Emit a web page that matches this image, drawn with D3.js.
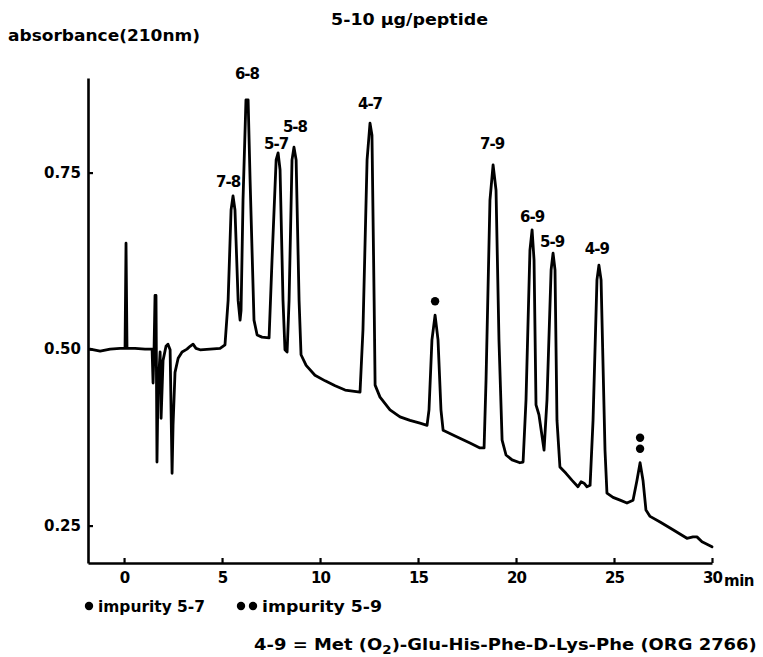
<!DOCTYPE html>
<html><head><meta charset="utf-8">
<script src="https://cdn.jsdelivr.net/npm/d3@7"></script>
<style>body{margin:0;background:#fff}</style>
</head><body>
<svg id="c" width="763" height="657"></svg>
<script>
// ---- data (retention time in min, absorbance at 210 nm) ----
const time = [-1.73,-1.22,-0.71,-0.20,0.05,0.10,0.15,0.56,1.07,1.43,1.48,1.53,1.58,1.63,1.68,1.73,1.84,1.89,1.99,2.14,2.24,2.35,2.45,2.50,2.60,2.76,2.96,3.21,3.37,3.52,3.67,3.88,4.39,4.90,5.15,5.31,5.46,5.56,5.66,5.82,5.92,5.97,6.07,6.22,6.33,6.43,6.63,6.79,7.04,7.40,7.55,7.76,7.86,7.96,8.11,8.21,8.32,8.42,8.57,8.67,8.78,8.93,9.03,9.29,9.74,10.26,10.77,11.28,12.04,12.19,12.40,12.55,12.65,12.76,12.81,13.06,13.57,14.08,14.59,15.10,15.46,15.56,15.71,15.87,16.02,16.17,16.28,16.89,17.65,18.16,18.37,18.47,18.67,18.83,18.98,19.13,19.29,19.49,19.80,20.20,20.36,20.51,20.71,20.82,20.92,21.02,21.17,21.43,21.58,21.79,21.89,21.99,22.09,22.24,22.55,22.86,23.16,23.32,23.47,23.62,23.78,23.93,24.13,24.23,24.34,24.54,24.64,24.95,25.31,25.66,25.97,26.17,26.33,26.48,26.63,26.84,27.35,28.01,28.72,29.03,29.23,29.49,30.00];
const absorbance = [0.500,0.497,0.500,0.501,0.501,0.650,0.501,0.501,0.500,0.500,0.452,0.499,0.576,0.576,0.340,0.442,0.496,0.402,0.484,0.504,0.507,0.499,0.324,0.392,0.467,0.487,0.496,0.500,0.504,0.507,0.501,0.499,0.500,0.501,0.506,0.569,0.697,0.717,0.697,0.569,0.541,0.555,0.711,0.853,0.853,0.740,0.541,0.520,0.517,0.516,0.626,0.768,0.778,0.754,0.569,0.499,0.496,0.569,0.768,0.786,0.768,0.569,0.492,0.477,0.463,0.455,0.448,0.442,0.439,0.527,0.768,0.820,0.803,0.569,0.449,0.432,0.414,0.404,0.399,0.395,0.392,0.414,0.513,0.548,0.513,0.414,0.385,0.377,0.367,0.360,0.360,0.456,0.711,0.761,0.725,0.513,0.371,0.350,0.343,0.339,0.340,0.428,0.640,0.669,0.626,0.421,0.407,0.357,0.428,0.612,0.636,0.612,0.399,0.333,0.324,0.314,0.305,0.312,0.310,0.305,0.307,0.399,0.598,0.619,0.598,0.357,0.296,0.290,0.286,0.282,0.286,0.314,0.339,0.314,0.272,0.263,0.255,0.244,0.232,0.234,0.234,0.227,0.220];

const xTicks = [0,5,10,15,20,25,30];
const xTickLabels = ["0","5","10","15","20","25","30"];
const yTicks = [0.25,0.50,0.75];
const yTickLabels = ["0.25","0.50","0.75"];

const peakNames = ["7-8","6-8","5-7","5-8","4-7","7-9","6-9","5-9","4-9"];
const peakTimes = [5.56,6.27,7.86,8.67,12.55,18.83,20.82,21.89,24.23];
const peakHeights = [0.717,0.853,0.778,0.786,0.820,0.761,0.669,0.636,0.619];

const impurityTimes = [15.87,26.33];
const impurityHeights = [0.548,0.339];
const impurityDots = [1,2];

const titleText = "5-10 \u00b5g/peptide";
const yTitle = "absorbance(210nm)";
const xUnit = "min";
const legendItems = ["impurity 5-7","impurity 5-9"];
const footnote = ["4-9 = Met (O","2",")-Glu-His-Phe-D-Lys-Phe (ORG 2766)"];

// ---- layout (pixels) ----
const labelDx = [-5,0,-2,1,0,-1,0,-1,-2];
const labelDy = [-9,-21,-4,-15,-14,-16,-8,-6,-11];
const FONT = "DejaVu Sans";

const svg = d3.select("#c");
const x = d3.scaleLinear().domain([-1.84,30]).range([88,712]);
const y = d3.scaleLinear().domain([0.197,0.884]).range([563,78]);

// axes
const gx = svg.append("g").attr("transform","translate(0,563)")
  .call(d3.axisBottom(x).tickValues(xTicks).tickFormat((d,i)=>xTickLabels[i])
        .tickSize(-5).tickSizeOuter(0).tickPadding(9));
const gy = svg.append("g").attr("transform","translate(88,0)")
  .call(d3.axisLeft(y).tickValues(yTicks).tickFormat((d,i)=>yTickLabels[i])
        .tickSize(-5).tickSizeOuter(0).tickPadding(7));
[gx,gy].forEach(g=>{
  g.select(".domain").attr("stroke","#000").attr("stroke-width",2.6);
  g.selectAll(".tick line").attr("stroke","#000").attr("stroke-width",2.2);
  g.selectAll(".tick text").attr("font-family",FONT).attr("font-size",15)
    .attr("font-weight","bold").attr("fill","#000");
});
gx.selectAll(".tick text").attr("letter-spacing","-1");

svg.append("text").attr("x",x(30)+12).attr("y",586).attr("font-family",FONT)
  .attr("font-size",15).attr("font-weight","bold").attr("letter-spacing","-0.5").text(xUnit);

// trace
const pts = time.map((t,i)=>[t,absorbance[i]]);
svg.append("path").datum(pts)
  .attr("fill","none").attr("stroke","#000").attr("stroke-width",2.8)
  .attr("stroke-linejoin","round").attr("stroke-linecap","round")
  .attr("d", d3.line().x(d=>x(d[0])).y(d=>y(d[1])));

// peak labels
svg.append("g").selectAll("text").data(peakNames).join("text")
  .attr("x",(d,i)=>x(peakTimes[i])+labelDx[i])
  .attr("y",(d,i)=>y(peakHeights[i])+labelDy[i])
  .attr("text-anchor","middle").attr("font-family",FONT).attr("font-size",15)
  .attr("font-weight","bold").attr("letter-spacing","-1").text(d=>d);

// impurity dots
impurityTimes.forEach((t,i)=>{
  for(let k=0;k<impurityDots[i];k++){
    svg.append("circle").attr("cx",x(t)).attr("cy",y(impurityHeights[i])-14-k*11)
      .attr("r",4.2).attr("fill","#000");
  }
});

// titles
svg.append("text").attr("x",331).attr("y",25).attr("font-family",FONT)
  .attr("font-size",16).attr("font-weight","bold")
  .attr("textLength",157).attr("lengthAdjust","spacingAndGlyphs").text(titleText);
svg.append("text").attr("x",8).attr("y",41).attr("font-family",FONT)
  .attr("font-size",16).attr("font-weight","bold")
  .attr("textLength",192).attr("lengthAdjust","spacingAndGlyphs").text(yTitle);

// legend
const legendX = [85,237];
legendItems.forEach((s,i)=>{
  for(let k=0;k<=i;k++){
    svg.append("circle").attr("cx",legendX[i]+4+k*12).attr("cy",606).attr("r",4.2).attr("fill","#000");
  }
  svg.append("text").attr("x",legendX[i]+13+i*12).attr("y",612).attr("font-family",FONT)
    .attr("font-size",16).attr("font-weight","bold")
    .attr("textLength",i===0?107:120).attr("lengthAdjust","spacingAndGlyphs").text(s);
});

// footnote
const fn = svg.append("text").attr("x",254).attr("y",650).attr("font-family",FONT)
  .attr("font-size",16).attr("font-weight","bold");
fn.append("tspan").text(footnote[0]);
fn.append("tspan").attr("dy",4).attr("font-size",12).text(footnote[1]);
fn.append("tspan").attr("dy",-4).text(footnote[2]);
const w = fn.node().getComputedTextLength();
fn.attr("transform",`translate(254,0) scale(${503/w},1) translate(-254,0)`);
</script>
</body></html>
